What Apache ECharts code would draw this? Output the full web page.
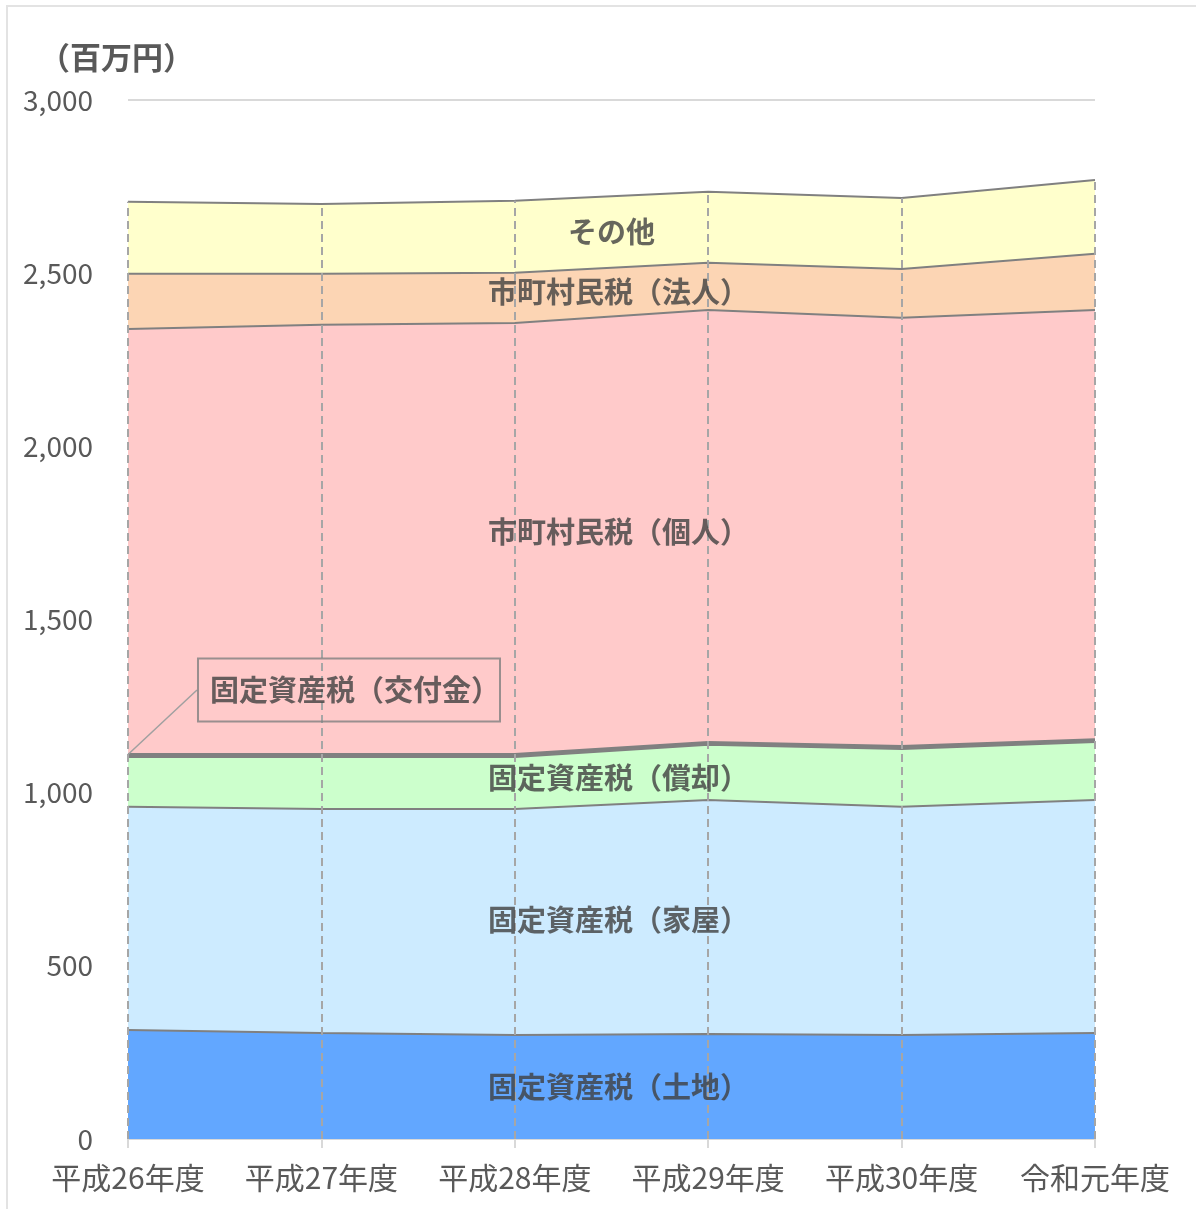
<!DOCTYPE html>
<html>
<head>
<meta charset="utf-8">
<script src="https://cdn.jsdelivr.net/npm/echarts@6/dist/echarts.min.js"></script>
<style>
html,body{margin:0;padding:0;background:#fff;}
#frame{position:absolute;left:6px;top:5px;width:1200px;height:1210px;border-left:2px solid #e3e3e3;border-top:2px solid #e3e3e3;box-sizing:border-box;}
#main{position:absolute;left:0;top:0;width:1196px;height:1209px;}
</style>
</head>
<body>
<div id="frame"></div>
<div id="main"></div>
<script>
const categories = ['平成26年度','平成27年度','平成28年度','平成29年度','平成30年度','令和元年度'];
const yTicks = [0, 500, 1000, 1500, 2000, 2500, 3000];
const seriesNames = ['固定資産税（土地）','固定資産税（家屋）','固定資産税（償却）','固定資産税（交付金）','市町村民税（個人）','市町村民税（法人）','その他'];
const tochi   = [315, 306, 300, 303, 300, 306];
const kaoku   = [644, 647, 653, 676, 659, 673];
const shokyaku= [144, 150, 150, 159, 167, 167];
const kofukin = [7, 7, 7, 7, 7, 7];
const kojin   = [1229, 1241, 1246, 1249, 1238, 1241];
const hojin   = [159, 147, 145, 136, 141, 162];
const sonota  = [208, 202, 208, 205, 205, 213];
const colors = ['#62a7ff','#cdebff','#ccffcc','#8a8a8a','#ffcaca','#fcd5b4','#ffffcc'];

const seriesData = [tochi, kaoku, shokyaku, kofukin, kojin, hojin, sonota];
const FONT = '"Noto Sans CJK JP", "Noto Sans", sans-serif';

// label positions: middle of each band, halfway between 平成28年度 and 平成29年度
const labelPts = [];
const cum = [0,0,0,0,0,0];
let calloutY = 0;
seriesData.forEach((arr, si) => {
  const bottom = (cum[2] + cum[3]) / 2;
  arr.forEach((v, i) => cum[i] += v);
  const top = (cum[2] + cum[3]) / 2;
  if (si !== 3) {
    const item = { value: [2.5, (bottom + top) / 2], name: seriesNames[si] };
    if (seriesNames[si].indexOf('（') >= 0) item.label = { offset: [7, 0] };
    labelPts.push(item);
  } else calloutY = cum[0];
});
const totals = cum.slice();

const series = seriesData.map((arr, si) => ({
  name: seriesNames[si],
  type: 'line',
  stack: 'total',
  data: arr,
  symbol: 'none',
  lineStyle: { color: '#808080', width: si === 3 ? 3 : 2 },
  areaStyle: { color: colors[si], opacity: 1 },
  itemStyle: { color: colors[si] },
  z: 2
}));

// dashed vertical guides up to the top of the stack
series[6].markLine = {
  silent: true,
  symbol: 'none',
  label: { show: false },
  z: 5,
  lineStyle: { color: '#a6a6a6', type: [8, 5], width: 2 },
  data: totals.map((t, i) => [{ coord: [i, 0] }, { coord: [i, t] }])
};

// band labels
series.push({
  type: 'scatter',
  xAxisIndex: 1,
  data: labelPts,
  symbolSize: 0,
  silent: true,
  label: {
    show: true, position: 'inside',
    formatter: p => p.name,
    fontFamily: FONT, fontSize: 29, fontWeight: 'bold', color: '#404040'
  },
  z: 10
});

// callout for 交付金
series.push({
  type: 'scatter',
  xAxisIndex: 1,
  data: [{ value: [0, calloutY], name: seriesNames[3] }],
  symbolSize: 0,
  silent: true,
  label: {
    show: true, position: 'right',
    formatter: p => p.name,
    fontFamily: FONT, fontSize: 29, fontWeight: 'bold', color: '#404040',
    lineHeight: 37,
    borderColor: '#7f7f7f', borderWidth: 2, padding: [13, 0, 13, 12]
  },
  labelLayout: { x: 349, y: 690, align: 'center', verticalAlign: 'middle' },
  labelLine: { show: true, lineStyle: { color: '#a0a0a0', width: 1.5 }, length2: 10 },
  z: 10
});

const chart = echarts.init(document.getElementById('main'));
chart.setOption({
  animation: false,
  grid: { left: 128, right: 101, top: 100, bottom: 70 },
  graphic: [{
    type: 'text', left: 39, top: 42,
    style: { text: '（百万円）', font: 'bold 31px ' + FONT, fill: '#595959' }
  }],
  xAxis: [{
    type: 'category',
    data: categories,
    boundaryGap: false,
    axisLine: { lineStyle: { color: '#d9d9d9', width: 2 } },
    axisTick: { show: true, interval: 0, length: 9, lineStyle: { color: '#d9d9d9', width: 2 } },
    axisLabel: { interval: 0, fontFamily: FONT, fontSize: 30, color: '#595959', margin: 24 },
    splitLine: { show: false }
  }, {
    type: 'value', min: 0, max: 5, show: false
  }],
  yAxis: {
    type: 'value',
    min: yTicks[0], max: yTicks[yTicks.length - 1], interval: yTicks[1] - yTicks[0],
    axisLine: { show: false },
    axisTick: { show: false },
    axisLabel: {
      fontFamily: FONT, fontSize: 28, color: '#595959', margin: 35,
      formatter: v => v.toLocaleString('en-US')
    },
    splitLine: { lineStyle: { color: '#d9d9d9', width: 2 } }
  },
  series: series
});
</script>
</body>
</html>
